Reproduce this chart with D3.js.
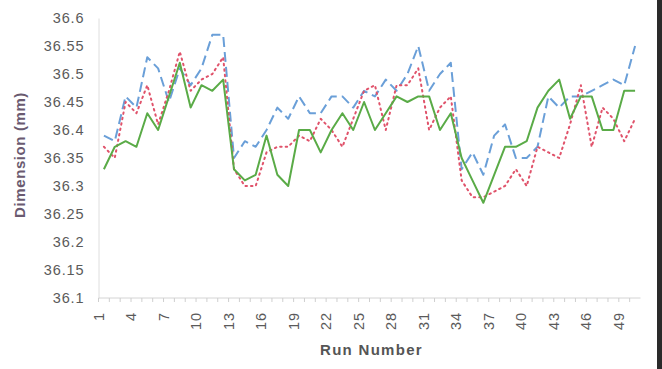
<!DOCTYPE html>
<html>
<head>
<meta charset="utf-8">
<script src="https://cdn.jsdelivr.net/npm/d3@7"></script>
<style>
  body { margin: 0; background: #fff; }
  #chart { width: 662px; height: 369px; }
</style>
</head>
<body>
<div id="chart"></div>
<script>
const runs = [1, 2, 3, 4, 5, 6, 7, 8, 9, 10, 11, 12, 13, 14, 15, 16, 17, 18, 19, 20,
  21, 22, 23, 24, 25, 26, 27, 28, 29, 30, 31, 32, 33, 34, 35, 36, 37, 38, 39, 40,
  41, 42, 43, 44, 45, 46, 47, 48, 49, 50];

// blue dashed
const upperSeries = [36.39, 36.38, 36.46, 36.44, 36.53, 36.51, 36.45, 36.51, 36.48, 36.51,
  36.57, 36.57, 36.35, 36.38, 36.37, 36.40, 36.44, 36.42, 36.46, 36.43,
  36.43, 36.46, 36.46, 36.44, 36.47, 36.46, 36.49, 36.47, 36.50, 36.55,
  36.47, 36.50, 36.52, 36.33, 36.36, 36.32, 36.39, 36.41, 36.35, 36.35,
  36.37, 36.46, 36.44, 36.46, 36.46, 36.47, 36.48, 36.49, 36.48, 36.55];

// red dotted
const midSeries = [36.37, 36.35, 36.45, 36.43, 36.48, 36.41, 36.47, 36.54, 36.47, 36.49,
  36.50, 36.53, 36.33, 36.30, 36.30, 36.36, 36.37, 36.37, 36.39, 36.38,
  36.42, 36.40, 36.37, 36.42, 36.47, 36.48, 36.40, 36.48, 36.48, 36.51,
  36.40, 36.44, 36.46, 36.31, 36.28, 36.28, 36.29, 36.30, 36.33, 36.30,
  36.37, 36.36, 36.35, 36.41, 36.48, 36.37, 36.44, 36.42, 36.38, 36.42];

// green solid
const lowerSeries = [36.33, 36.37, 36.38, 36.37, 36.43, 36.40, 36.46, 36.52, 36.44, 36.48,
  36.47, 36.49, 36.33, 36.31, 36.32, 36.39, 36.32, 36.30, 36.40, 36.40,
  36.36, 36.40, 36.43, 36.40, 36.45, 36.40, 36.43, 36.46, 36.45, 36.46,
  36.46, 36.40, 36.43, 36.35, 36.31, 36.27, 36.32, 36.37, 36.37, 36.38,
  36.44, 36.47, 36.49, 36.42, 36.46, 36.46, 36.40, 36.40, 36.47, 36.47];

const yTicks = [36.1, 36.15, 36.2, 36.25, 36.3, 36.35, 36.4, 36.45, 36.5, 36.55, 36.6];
const xTickRuns = [1, 4, 7, 10, 13, 16, 19, 22, 25, 28, 31, 34, 37, 40, 43, 46, 49];

const width = 662;
const height = 369;
const plot = { left: 98.5, right: 640.5, top: 18, bottom: 298 };

const svg = d3.select('#chart')
  .append('svg')
  .attr('width', width)
  .attr('height', height)
  .style('font-family', "Arial, 'Liberation Sans', sans-serif");

const xScale = d3.scalePoint()
  .domain(runs)
  .range([plot.left, plot.right])
  .padding(0.5);
const step = xScale.step();

const yScale = d3.scaleLinear()
  .domain([36.1, 36.6])
  .range([plot.bottom, plot.top]);

// y axis
svg.append('g')
  .attr('class', 'axis axis-left')
  .attr('transform', `translate(${plot.left},0)`)
  .call(d3.axisLeft(yScale).tickValues(yTicks).tickSize(0).tickPadding(14)
    .tickFormat(d => d3.format('')(+d.toFixed(2))))
  .call(g => g.select('.domain').attr('stroke', '#dedede'))
  .call(g => g.selectAll('text')
    .attr('fill', '#5a5a5a')
    .style('font-family', "Arial, 'Liberation Sans', sans-serif")
    .style('font-size', '14.5px')
    .style('letter-spacing', '0.9px'));

// x axis line with a tick at each category boundary
const xAxisG = svg.append('g')
  .attr('class', 'axis axis-bottom')
  .attr('transform', `translate(0,${plot.bottom})`);

xAxisG.append('line')
  .attr('x1', plot.left)
  .attr('x2', plot.right)
  .attr('stroke', '#d4d4d4');

xAxisG.selectAll('.minor')
  .data(runs)
  .enter()
  .append('line')
  .attr('x1', d => xScale(d) - step / 2)
  .attr('x2', d => xScale(d) - step / 2)
  .attr('y1', 0)
  .attr('y2', 4)
  .attr('stroke', '#cfcfcf');

xAxisG.selectAll('.xlabel')
  .data(xTickRuns)
  .enter()
  .append('text')
  .attr('transform', d => `translate(${xScale(d) - 1},14) rotate(-90)`)
  .attr('text-anchor', 'end')
  .attr('dy', '0.05em')
  .attr('fill', '#5a5a5a')
  .style('font-size', '14.5px')
  .style('letter-spacing', '0.9px')
  .text(d => d);

// axis titles
svg.append('text')
  .attr('transform', `translate(25,${(plot.top + plot.bottom) / 2 - 3}) rotate(-90)`)
  .attr('text-anchor', 'middle')
  .attr('fill', '#6a5a70')
  .style('font-size', '15px')
  .style('font-weight', 'bold')
  .style('letter-spacing', '0.6px')
  .text('Dimension (mm)');

svg.append('text')
  .attr('x', (plot.left + plot.right) / 2 + 2)
  .attr('y', 355)
  .attr('text-anchor', 'middle')
  .attr('fill', '#555')
  .style('font-size', '15px')
  .style('font-weight', 'bold')
  .style('letter-spacing', '1.3px')
  .text('Run Number');

// series
const series = [
  { values: upperSeries, color: '#6a9fd8', dash: '10,5', cap: 'butt' },
  { values: midSeries, color: '#e0536b', dash: '1.5,4', cap: 'round' },
  { values: lowerSeries, color: '#5aab47', dash: null, cap: 'butt' },
];

const line = d3.line()
  .x((d, i) => xScale(runs[i]))
  .y(d => yScale(d));

series.forEach(s => {
  svg.append('path')
    .datum(s.values)
    .attr('fill', 'none')
    .attr('stroke', s.color)
    .attr('stroke-width', 2)
    .attr('stroke-linejoin', 'round')
    .attr('stroke-linecap', s.cap)
    .attr('stroke-dasharray', s.dash)
    .attr('d', line);
});

// dark right edge of the scan
svg.append('rect')
  .attr('x', 657)
  .attr('y', 0)
  .attr('width', 5)
  .attr('height', height)
  .attr('fill', '#2a2a2a');
</script>
</body>
</html>
